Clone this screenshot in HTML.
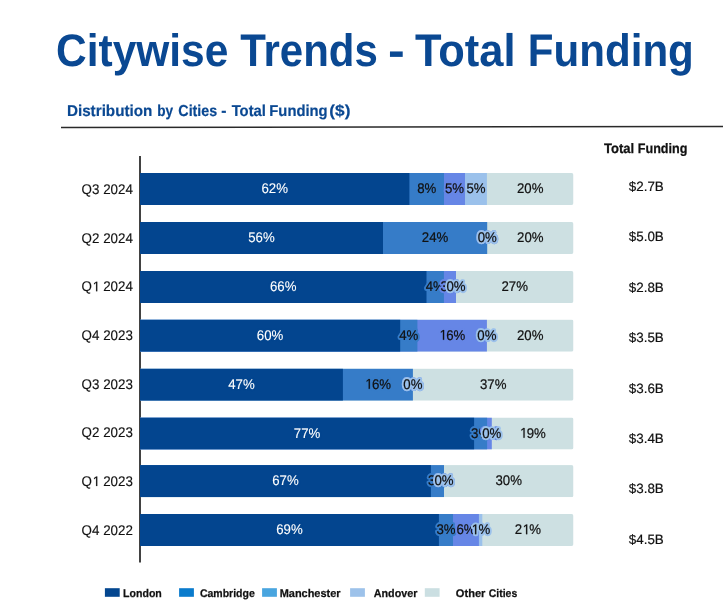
<!DOCTYPE html>
<html><head><meta charset="utf-8">
<style>
html,body{margin:0;padding:0;background:#fff;width:723px;height:611px;overflow:hidden}
svg{position:absolute;left:0;top:0;display:block}
.ga{will-change:transform}
text{font-family:"Liberation Sans",sans-serif;text-rendering:geometricPrecision}
.lbh{stroke-width:4.2px;stroke-linejoin:round}
.cat{fill:#111;stroke:#111;stroke-width:0.15px}
.fund{fill:#111;stroke:#111;stroke-width:0.2px}
.title{font-weight:bold;fill:#0a4892}
.sub{font-weight:bold;fill:#0a4892;stroke:#0a4892;stroke-width:0.2px}
.th{font-weight:bold;fill:#111;stroke:#111;stroke-width:0.25px}
.leg{font-weight:bold;fill:#111;stroke:#111;stroke-width:0.25px}
</style></head><body>
<svg class="ga" width="723" height="611" viewBox="0 0 723 611">
<text x="56" y="65.9" class="title" style="font-size:45.65px" textLength="172.38" lengthAdjust="spacingAndGlyphs">Citywise</text>
<text x="240.18" y="65.9" class="title" style="font-size:45.65px" textLength="137.65" lengthAdjust="spacingAndGlyphs">Trends</text>
<text x="388.09" y="65.9" class="title" style="font-size:45.65px" textLength="16.72" lengthAdjust="spacingAndGlyphs">-</text>
<text x="414.97" y="65.9" class="title" style="font-size:45.65px" textLength="100.56" lengthAdjust="spacingAndGlyphs">Total</text>
<text x="527.76" y="65.9" class="title" style="font-size:45.65px" textLength="166.1" lengthAdjust="spacingAndGlyphs">Funding</text>
<path d="M61 126.8 L723 125.8 L723 127.2 L61 128.2 Z" fill="#2a2a2a"/>
<rect x="139" y="156" width="2" height="406.5" fill="#424242"/>
<clipPath id="c0"><path d="M140.0,173.0 H571.5 Q573.5,173.0 573.5,175.0 V203.1 Q573.5,205.1 571.5,205.1 H140.0 Z"/></clipPath>
<g clip-path="url(#c0)"><rect x="140.0" y="173.0" width="433.50" height="32.1" fill="#cde0e2"/><rect x="140.0" y="173.0" width="346.90" height="32.1" fill="#9bc1eb"/><rect x="140.0" y="173.0" width="325.00" height="32.1" fill="#6686e6"/><rect x="140.0" y="173.0" width="304.00" height="32.1" fill="#367cc8"/><rect x="140.0" y="173.0" width="269.40" height="32.1" fill="#03458f"/></g>
<clipPath id="c1"><path d="M140.0,222.0 H571.5 Q573.5,222.0 573.5,224.0 V252.1 Q573.5,254.1 571.5,254.1 H140.0 Z"/></clipPath>
<g clip-path="url(#c1)"><rect x="140.0" y="222.0" width="433.50" height="32.1" fill="#cde0e2"/><rect x="140.0" y="222.0" width="347.20" height="32.1" fill="#367cc8"/><rect x="140.0" y="222.0" width="243.00" height="32.1" fill="#03458f"/></g>
<clipPath id="c2"><path d="M140.0,271.0 H571.5 Q573.5,271.0 573.5,273.0 V301.1 Q573.5,303.1 571.5,303.1 H140.0 Z"/></clipPath>
<g clip-path="url(#c2)"><rect x="140.0" y="271.0" width="433.50" height="32.1" fill="#cde0e2"/><rect x="140.0" y="271.0" width="316.00" height="32.1" fill="#6686e6"/><rect x="140.0" y="271.0" width="303.90" height="32.1" fill="#367cc8"/><rect x="140.0" y="271.0" width="286.50" height="32.1" fill="#03458f"/></g>
<clipPath id="c3"><path d="M140.0,319.6 H571.5 Q573.5,319.6 573.5,321.6 V349.70000000000005 Q573.5,351.70000000000005 571.5,351.70000000000005 H140.0 Z"/></clipPath>
<g clip-path="url(#c3)"><rect x="140.0" y="319.6" width="433.50" height="32.1" fill="#cde0e2"/><rect x="140.0" y="319.6" width="346.90" height="32.1" fill="#6686e6"/><rect x="140.0" y="319.6" width="277.40" height="32.1" fill="#367cc8"/><rect x="140.0" y="319.6" width="260.20" height="32.1" fill="#03458f"/></g>
<clipPath id="c4"><path d="M140.0,368.6 H571.5 Q573.5,368.6 573.5,370.6 V398.70000000000005 Q573.5,400.70000000000005 571.5,400.70000000000005 H140.0 Z"/></clipPath>
<g clip-path="url(#c4)"><rect x="140.0" y="368.6" width="433.50" height="32.1" fill="#cde0e2"/><rect x="140.0" y="368.6" width="272.90" height="32.1" fill="#367cc8"/><rect x="140.0" y="368.6" width="202.90" height="32.1" fill="#03458f"/></g>
<clipPath id="c5"><path d="M140.0,417.5 H571.5 Q573.5,417.5 573.5,419.5 V447.6 Q573.5,449.6 571.5,449.6 H140.0 Z"/></clipPath>
<g clip-path="url(#c5)"><rect x="140.0" y="417.5" width="433.50" height="32.1" fill="#cde0e2"/><rect x="140.0" y="417.5" width="351.80" height="32.1" fill="#6686e6"/><rect x="140.0" y="417.5" width="347.10" height="32.1" fill="#367cc8"/><rect x="140.0" y="417.5" width="334.10" height="32.1" fill="#03458f"/></g>
<clipPath id="c6"><path d="M140.0,465.1 H571.5 Q573.5,465.1 573.5,467.1 V495.20000000000005 Q573.5,497.20000000000005 571.5,497.20000000000005 H140.0 Z"/></clipPath>
<g clip-path="url(#c6)"><rect x="140.0" y="465.1" width="433.50" height="32.1" fill="#cde0e2"/><rect x="140.0" y="465.1" width="304.00" height="32.1" fill="#367cc8"/><rect x="140.0" y="465.1" width="290.90" height="32.1" fill="#03458f"/></g>
<clipPath id="c7"><path d="M140.0,514.0 H571.5 Q573.5,514.0 573.5,516.0 V544.1 Q573.5,546.1 571.5,546.1 H140.0 Z"/></clipPath>
<g clip-path="url(#c7)"><rect x="140.0" y="514.0" width="433.50" height="32.1" fill="#cde0e2"/><rect x="140.0" y="514.0" width="342.30" height="32.1" fill="#9bc1eb"/><rect x="140.0" y="514.0" width="338.90" height="32.1" fill="#6686e6"/><rect x="140.0" y="514.0" width="313.00" height="32.1" fill="#367cc8"/><rect x="140.0" y="514.0" width="298.90" height="32.1" fill="#03458f"/></g>
<text x="261.46" y="193.15" class="lbh" style="font-size:14px" textLength="26.48" lengthAdjust="spacingAndGlyphs" fill="#03458f" stroke="#03458f">62%</text>
<text x="261.46" y="193.15" class="lbt" style="font-size:14px" textLength="26.48" lengthAdjust="spacingAndGlyphs" fill="#ffffff" stroke="#ffffff" stroke-width="0.1">62%</text>
<text x="417.14" y="193.15" class="lbh" style="font-size:14px" textLength="19.12" lengthAdjust="spacingAndGlyphs" fill="#367cc8" stroke="#367cc8">8%</text>
<text x="417.14" y="193.15" class="lbt" style="font-size:14px" textLength="19.12" lengthAdjust="spacingAndGlyphs" fill="#111111" stroke="#111111" stroke-width="0.22">8%</text>
<text x="444.94" y="193.15" class="lbh" style="font-size:14px" textLength="19.12" lengthAdjust="spacingAndGlyphs" fill="#6686e6" stroke="#6686e6">5%</text>
<text x="444.94" y="193.15" class="lbt" style="font-size:14px" textLength="19.12" lengthAdjust="spacingAndGlyphs" fill="#111111" stroke="#111111" stroke-width="0.22">5%</text>
<text x="466.39" y="193.15" class="lbh" style="font-size:14px" textLength="19.12" lengthAdjust="spacingAndGlyphs" fill="#9bc1eb" stroke="#9bc1eb">5%</text>
<text x="466.39" y="193.15" class="lbt" style="font-size:14px" textLength="19.12" lengthAdjust="spacingAndGlyphs" fill="#111111" stroke="#111111" stroke-width="0.22">5%</text>
<text x="516.96" y="193.15" class="lbh" style="font-size:14px" textLength="26.48" lengthAdjust="spacingAndGlyphs" fill="#cde0e2" stroke="#cde0e2">20%</text>
<text x="516.96" y="193.15" class="lbt" style="font-size:14px" textLength="26.48" lengthAdjust="spacingAndGlyphs" fill="#111111" stroke="#111111" stroke-width="0.22">20%</text>
<text x="81.61" y="193.9" class="cat" style="font-size:14px" textLength="51.29" lengthAdjust="spacingAndGlyphs">Q3 2024</text>
<text x="248.26" y="242.15" class="lbh" style="font-size:14px" textLength="26.48" lengthAdjust="spacingAndGlyphs" fill="#03458f" stroke="#03458f">56%</text>
<text x="248.26" y="242.15" class="lbt" style="font-size:14px" textLength="26.48" lengthAdjust="spacingAndGlyphs" fill="#ffffff" stroke="#ffffff" stroke-width="0.1">56%</text>
<text x="421.86" y="242.15" class="lbh" style="font-size:14px" textLength="26.48" lengthAdjust="spacingAndGlyphs" fill="#367cc8" stroke="#367cc8">24%</text>
<text x="421.86" y="242.15" class="lbt" style="font-size:14px" textLength="26.48" lengthAdjust="spacingAndGlyphs" fill="#111111" stroke="#111111" stroke-width="0.22">24%</text>
<text x="477.64" y="242.15" class="lbh" style="font-size:14px" textLength="19.12" lengthAdjust="spacingAndGlyphs" fill="#6686e6" stroke="#6686e6">0%</text>
<text x="477.64" y="242.15" class="lbt" style="font-size:14px" textLength="19.12" lengthAdjust="spacingAndGlyphs" fill="#111111" stroke="#111111" stroke-width="0.22">0%</text>
<text x="477.64" y="242.15" class="lbh" style="font-size:14px" textLength="19.12" lengthAdjust="spacingAndGlyphs" fill="#9bc1eb" stroke="#9bc1eb">0%</text>
<text x="477.64" y="242.15" class="lbt" style="font-size:14px" textLength="19.12" lengthAdjust="spacingAndGlyphs" fill="#111111" stroke="#111111" stroke-width="0.22">0%</text>
<text x="517.11" y="242.15" class="lbh" style="font-size:14px" textLength="26.48" lengthAdjust="spacingAndGlyphs" fill="#cde0e2" stroke="#cde0e2">20%</text>
<text x="517.11" y="242.15" class="lbt" style="font-size:14px" textLength="26.48" lengthAdjust="spacingAndGlyphs" fill="#111111" stroke="#111111" stroke-width="0.22">20%</text>
<text x="81.61" y="242.6" class="cat" style="font-size:14px" textLength="51.29" lengthAdjust="spacingAndGlyphs">Q2 2024</text>
<text x="270.01" y="291.15" class="lbh" style="font-size:14px" textLength="26.48" lengthAdjust="spacingAndGlyphs" fill="#03458f" stroke="#03458f">66%</text>
<text x="270.01" y="291.15" class="lbt" style="font-size:14px" textLength="26.48" lengthAdjust="spacingAndGlyphs" fill="#ffffff" stroke="#ffffff" stroke-width="0.1">66%</text>
<text x="425.64" y="291.15" class="lbh" style="font-size:14px" textLength="19.12" lengthAdjust="spacingAndGlyphs" fill="#367cc8" stroke="#367cc8">4%</text>
<text x="425.64" y="291.15" class="lbt" style="font-size:14px" textLength="19.12" lengthAdjust="spacingAndGlyphs" fill="#111111" stroke="#111111" stroke-width="0.22">4%</text>
<text x="440.39" y="291.15" class="lbh" style="font-size:14px" textLength="19.12" lengthAdjust="spacingAndGlyphs" fill="#6686e6" stroke="#6686e6">3%</text>
<text x="440.39" y="291.15" class="lbt" style="font-size:14px" textLength="19.12" lengthAdjust="spacingAndGlyphs" fill="#111111" stroke="#111111" stroke-width="0.22">3%</text>
<text x="446.44" y="291.15" class="lbh" style="font-size:14px" textLength="19.12" lengthAdjust="spacingAndGlyphs" fill="#9bc1eb" stroke="#9bc1eb">0%</text>
<text x="446.44" y="291.15" class="lbt" style="font-size:14px" textLength="19.12" lengthAdjust="spacingAndGlyphs" fill="#111111" stroke="#111111" stroke-width="0.22">0%</text>
<text x="501.51" y="291.15" class="lbh" style="font-size:14px" textLength="26.48" lengthAdjust="spacingAndGlyphs" fill="#cde0e2" stroke="#cde0e2">27%</text>
<text x="501.51" y="291.15" class="lbt" style="font-size:14px" textLength="26.48" lengthAdjust="spacingAndGlyphs" fill="#111111" stroke="#111111" stroke-width="0.22">27%</text>
<text x="81.61" y="291.3" class="cat" style="font-size:14px" textLength="51.29" lengthAdjust="spacingAndGlyphs">Q  2024</text><path d="M625 0V1237L307 1010V1180L640 1409H806V0Z" transform="translate(92.01,291.3) scale(0.00653,-0.00684)" class="cat" vector-effect="non-scaling-stroke"/>
<text x="256.86" y="339.75" class="lbh" style="font-size:14px" textLength="26.48" lengthAdjust="spacingAndGlyphs" fill="#03458f" stroke="#03458f">60%</text>
<text x="256.86" y="339.75" class="lbt" style="font-size:14px" textLength="26.48" lengthAdjust="spacingAndGlyphs" fill="#ffffff" stroke="#ffffff" stroke-width="0.1">60%</text>
<text x="399.24" y="339.75" class="lbh" style="font-size:14px" textLength="19.12" lengthAdjust="spacingAndGlyphs" fill="#367cc8" stroke="#367cc8">4%</text>
<text x="399.24" y="339.75" class="lbt" style="font-size:14px" textLength="19.12" lengthAdjust="spacingAndGlyphs" fill="#111111" stroke="#111111" stroke-width="0.22">4%</text>
<text x="438.91" y="339.75" class="lbh" style="font-size:14px" textLength="26.48" lengthAdjust="spacingAndGlyphs" fill="#6686e6" stroke="#6686e6"> 6%</text><path d="M625 0V1237L307 1010V1180L640 1409H806V0Z" transform="translate(438.91,339.75) scale(0.00646,-0.00684)" class="lbh" fill="#6686e6" stroke="#6686e6" vector-effect="non-scaling-stroke"/>
<text x="438.91" y="339.75" class="lbt" style="font-size:14px" textLength="26.48" lengthAdjust="spacingAndGlyphs" fill="#111111" stroke="#111111" stroke-width="0.22"> 6%</text><path d="M625 0V1237L307 1010V1180L640 1409H806V0Z" transform="translate(438.91,339.75) scale(0.00646,-0.00684)" class="lbt" fill="#111111" stroke="#111111" stroke-width="0.22" vector-effect="non-scaling-stroke"/>
<text x="477.34" y="339.75" class="lbh" style="font-size:14px" textLength="19.12" lengthAdjust="spacingAndGlyphs" fill="#9bc1eb" stroke="#9bc1eb">0%</text>
<text x="477.34" y="339.75" class="lbt" style="font-size:14px" textLength="19.12" lengthAdjust="spacingAndGlyphs" fill="#111111" stroke="#111111" stroke-width="0.22">0%</text>
<text x="516.96" y="339.75" class="lbh" style="font-size:14px" textLength="26.48" lengthAdjust="spacingAndGlyphs" fill="#cde0e2" stroke="#cde0e2">20%</text>
<text x="516.96" y="339.75" class="lbt" style="font-size:14px" textLength="26.48" lengthAdjust="spacingAndGlyphs" fill="#111111" stroke="#111111" stroke-width="0.22">20%</text>
<text x="81.61" y="340" class="cat" style="font-size:14px" textLength="51.29" lengthAdjust="spacingAndGlyphs">Q4 2023</text>
<text x="228.21" y="388.75" class="lbh" style="font-size:14px" textLength="26.48" lengthAdjust="spacingAndGlyphs" fill="#03458f" stroke="#03458f">47%</text>
<text x="228.21" y="388.75" class="lbt" style="font-size:14px" textLength="26.48" lengthAdjust="spacingAndGlyphs" fill="#ffffff" stroke="#ffffff" stroke-width="0.1">47%</text>
<text x="364.66" y="388.75" class="lbh" style="font-size:14px" textLength="26.48" lengthAdjust="spacingAndGlyphs" fill="#367cc8" stroke="#367cc8"> 6%</text><path d="M625 0V1237L307 1010V1180L640 1409H806V0Z" transform="translate(364.66,388.75) scale(0.00646,-0.00684)" class="lbh" fill="#367cc8" stroke="#367cc8" vector-effect="non-scaling-stroke"/>
<text x="364.66" y="388.75" class="lbt" style="font-size:14px" textLength="26.48" lengthAdjust="spacingAndGlyphs" fill="#111111" stroke="#111111" stroke-width="0.22"> 6%</text><path d="M625 0V1237L307 1010V1180L640 1409H806V0Z" transform="translate(364.66,388.75) scale(0.00646,-0.00684)" class="lbt" fill="#111111" stroke="#111111" stroke-width="0.22" vector-effect="non-scaling-stroke"/>
<text x="403.34" y="388.75" class="lbh" style="font-size:14px" textLength="19.12" lengthAdjust="spacingAndGlyphs" fill="#6686e6" stroke="#6686e6">0%</text>
<text x="403.34" y="388.75" class="lbt" style="font-size:14px" textLength="19.12" lengthAdjust="spacingAndGlyphs" fill="#111111" stroke="#111111" stroke-width="0.22">0%</text>
<text x="403.34" y="388.75" class="lbh" style="font-size:14px" textLength="19.12" lengthAdjust="spacingAndGlyphs" fill="#9bc1eb" stroke="#9bc1eb">0%</text>
<text x="403.34" y="388.75" class="lbt" style="font-size:14px" textLength="19.12" lengthAdjust="spacingAndGlyphs" fill="#111111" stroke="#111111" stroke-width="0.22">0%</text>
<text x="479.96" y="388.75" class="lbh" style="font-size:14px" textLength="26.48" lengthAdjust="spacingAndGlyphs" fill="#cde0e2" stroke="#cde0e2">37%</text>
<text x="479.96" y="388.75" class="lbt" style="font-size:14px" textLength="26.48" lengthAdjust="spacingAndGlyphs" fill="#111111" stroke="#111111" stroke-width="0.22">37%</text>
<text x="81.61" y="388.7" class="cat" style="font-size:14px" textLength="51.29" lengthAdjust="spacingAndGlyphs">Q3 2023</text>
<text x="293.81" y="437.65" class="lbh" style="font-size:14px" textLength="26.48" lengthAdjust="spacingAndGlyphs" fill="#03458f" stroke="#03458f">77%</text>
<text x="293.81" y="437.65" class="lbt" style="font-size:14px" textLength="26.48" lengthAdjust="spacingAndGlyphs" fill="#ffffff" stroke="#ffffff" stroke-width="0.1">77%</text>
<text x="471.04" y="437.65" class="lbh" style="font-size:14px" textLength="19.12" lengthAdjust="spacingAndGlyphs" fill="#367cc8" stroke="#367cc8">3%</text>
<text x="471.04" y="437.65" class="lbt" style="font-size:14px" textLength="19.12" lengthAdjust="spacingAndGlyphs" fill="#111111" stroke="#111111" stroke-width="0.22">3%</text>
<text x="479.89" y="437.65" class="lbh" style="font-size:14px" textLength="19.12" lengthAdjust="spacingAndGlyphs" fill="#6686e6" stroke="#6686e6"> %</text><path d="M625 0V1237L307 1010V1180L640 1409H806V0Z" transform="translate(479.89,437.65) scale(0.00646,-0.00684)" class="lbh" fill="#6686e6" stroke="#6686e6" vector-effect="non-scaling-stroke"/>
<text x="479.89" y="437.65" class="lbt" style="font-size:14px" textLength="19.12" lengthAdjust="spacingAndGlyphs" fill="#111111" stroke="#111111" stroke-width="0.22"> %</text><path d="M625 0V1237L307 1010V1180L640 1409H806V0Z" transform="translate(479.89,437.65) scale(0.00646,-0.00684)" class="lbt" fill="#111111" stroke="#111111" stroke-width="0.22" vector-effect="non-scaling-stroke"/>
<text x="482.24" y="437.65" class="lbh" style="font-size:14px" textLength="19.12" lengthAdjust="spacingAndGlyphs" fill="#9bc1eb" stroke="#9bc1eb">0%</text>
<text x="482.24" y="437.65" class="lbt" style="font-size:14px" textLength="19.12" lengthAdjust="spacingAndGlyphs" fill="#111111" stroke="#111111" stroke-width="0.22">0%</text>
<text x="519.41" y="437.65" class="lbh" style="font-size:14px" textLength="26.48" lengthAdjust="spacingAndGlyphs" fill="#cde0e2" stroke="#cde0e2"> 9%</text><path d="M625 0V1237L307 1010V1180L640 1409H806V0Z" transform="translate(519.41,437.65) scale(0.00646,-0.00684)" class="lbh" fill="#cde0e2" stroke="#cde0e2" vector-effect="non-scaling-stroke"/>
<text x="519.41" y="437.65" class="lbt" style="font-size:14px" textLength="26.48" lengthAdjust="spacingAndGlyphs" fill="#111111" stroke="#111111" stroke-width="0.22"> 9%</text><path d="M625 0V1237L307 1010V1180L640 1409H806V0Z" transform="translate(519.41,437.65) scale(0.00646,-0.00684)" class="lbt" fill="#111111" stroke="#111111" stroke-width="0.22" vector-effect="non-scaling-stroke"/>
<text x="81.61" y="437.4" class="cat" style="font-size:14px" textLength="51.29" lengthAdjust="spacingAndGlyphs">Q2 2023</text>
<text x="272.21" y="485.25" class="lbh" style="font-size:14px" textLength="26.48" lengthAdjust="spacingAndGlyphs" fill="#03458f" stroke="#03458f">67%</text>
<text x="272.21" y="485.25" class="lbt" style="font-size:14px" textLength="26.48" lengthAdjust="spacingAndGlyphs" fill="#ffffff" stroke="#ffffff" stroke-width="0.1">67%</text>
<text x="427.89" y="485.25" class="lbh" style="font-size:14px" textLength="19.12" lengthAdjust="spacingAndGlyphs" fill="#367cc8" stroke="#367cc8">3%</text>
<text x="427.89" y="485.25" class="lbt" style="font-size:14px" textLength="19.12" lengthAdjust="spacingAndGlyphs" fill="#111111" stroke="#111111" stroke-width="0.22">3%</text>
<text x="434.44" y="485.25" class="lbh" style="font-size:14px" textLength="19.12" lengthAdjust="spacingAndGlyphs" fill="#6686e6" stroke="#6686e6">0%</text>
<text x="434.44" y="485.25" class="lbt" style="font-size:14px" textLength="19.12" lengthAdjust="spacingAndGlyphs" fill="#111111" stroke="#111111" stroke-width="0.22">0%</text>
<text x="434.44" y="485.25" class="lbh" style="font-size:14px" textLength="19.12" lengthAdjust="spacingAndGlyphs" fill="#9bc1eb" stroke="#9bc1eb">0%</text>
<text x="434.44" y="485.25" class="lbt" style="font-size:14px" textLength="19.12" lengthAdjust="spacingAndGlyphs" fill="#111111" stroke="#111111" stroke-width="0.22">0%</text>
<text x="495.51" y="485.25" class="lbh" style="font-size:14px" textLength="26.48" lengthAdjust="spacingAndGlyphs" fill="#cde0e2" stroke="#cde0e2">30%</text>
<text x="495.51" y="485.25" class="lbt" style="font-size:14px" textLength="26.48" lengthAdjust="spacingAndGlyphs" fill="#111111" stroke="#111111" stroke-width="0.22">30%</text>
<text x="81.61" y="486.1" class="cat" style="font-size:14px" textLength="51.29" lengthAdjust="spacingAndGlyphs">Q  2023</text><path d="M625 0V1237L307 1010V1180L640 1409H806V0Z" transform="translate(92.01,486.1) scale(0.00653,-0.00684)" class="cat" vector-effect="non-scaling-stroke"/>
<text x="276.21" y="534.15" class="lbh" style="font-size:14px" textLength="26.48" lengthAdjust="spacingAndGlyphs" fill="#03458f" stroke="#03458f">69%</text>
<text x="276.21" y="534.15" class="lbt" style="font-size:14px" textLength="26.48" lengthAdjust="spacingAndGlyphs" fill="#ffffff" stroke="#ffffff" stroke-width="0.1">69%</text>
<text x="436.39" y="534.15" class="lbh" style="font-size:14px" textLength="19.12" lengthAdjust="spacingAndGlyphs" fill="#367cc8" stroke="#367cc8">3%</text>
<text x="436.39" y="534.15" class="lbt" style="font-size:14px" textLength="19.12" lengthAdjust="spacingAndGlyphs" fill="#111111" stroke="#111111" stroke-width="0.22">3%</text>
<text x="456.39" y="534.15" class="lbh" style="font-size:14px" textLength="19.12" lengthAdjust="spacingAndGlyphs" fill="#6686e6" stroke="#6686e6">6%</text>
<text x="456.39" y="534.15" class="lbt" style="font-size:14px" textLength="19.12" lengthAdjust="spacingAndGlyphs" fill="#111111" stroke="#111111" stroke-width="0.22">6%</text>
<text x="471.04" y="534.15" class="lbh" style="font-size:14px" textLength="19.12" lengthAdjust="spacingAndGlyphs" fill="#9bc1eb" stroke="#9bc1eb"> %</text><path d="M625 0V1237L307 1010V1180L640 1409H806V0Z" transform="translate(471.04,534.15) scale(0.00646,-0.00684)" class="lbh" fill="#9bc1eb" stroke="#9bc1eb" vector-effect="non-scaling-stroke"/>
<text x="471.04" y="534.15" class="lbt" style="font-size:14px" textLength="19.12" lengthAdjust="spacingAndGlyphs" fill="#111111" stroke="#111111" stroke-width="0.22"> %</text><path d="M625 0V1237L307 1010V1180L640 1409H806V0Z" transform="translate(471.04,534.15) scale(0.00646,-0.00684)" class="lbt" fill="#111111" stroke="#111111" stroke-width="0.22" vector-effect="non-scaling-stroke"/>
<text x="514.66" y="534.15" class="lbh" style="font-size:14px" textLength="26.48" lengthAdjust="spacingAndGlyphs" fill="#cde0e2" stroke="#cde0e2">2 %</text><path d="M625 0V1237L307 1010V1180L640 1409H806V0Z" transform="translate(522.02,534.15) scale(0.00646,-0.00684)" class="lbh" fill="#cde0e2" stroke="#cde0e2" vector-effect="non-scaling-stroke"/>
<text x="514.66" y="534.15" class="lbt" style="font-size:14px" textLength="26.48" lengthAdjust="spacingAndGlyphs" fill="#111111" stroke="#111111" stroke-width="0.22">2 %</text><path d="M625 0V1237L307 1010V1180L640 1409H806V0Z" transform="translate(522.02,534.15) scale(0.00646,-0.00684)" class="lbt" fill="#111111" stroke="#111111" stroke-width="0.22" vector-effect="non-scaling-stroke"/>
<text x="81.61" y="534.8" class="cat" style="font-size:14px" textLength="51.29" lengthAdjust="spacingAndGlyphs">Q4 2022</text>
</svg>
<svg width="723" height="611" viewBox="0 0 723 611">
<text x="66.91" y="115.8" class="sub" style="font-size:15.8px" textLength="85.51" lengthAdjust="spacingAndGlyphs">Distribution</text>
<text x="157.22" y="115.8" class="sub" style="font-size:15.8px" textLength="15.88" lengthAdjust="spacingAndGlyphs">by</text>
<text x="178.33" y="115.8" class="sub" style="font-size:15.8px" textLength="38.89" lengthAdjust="spacingAndGlyphs">Cities</text>
<text x="221.37" y="115.8" class="sub" style="font-size:15.8px" textLength="5.22" lengthAdjust="spacingAndGlyphs">-</text>
<text x="231.65" y="115.8" class="sub" style="font-size:15.8px" textLength="34.28" lengthAdjust="spacingAndGlyphs">Total</text>
<text x="269.34" y="115.8" class="sub" style="font-size:15.8px" textLength="58.26" lengthAdjust="spacingAndGlyphs">Funding</text>
<text x="329.34" y="115.8" class="sub" style="font-size:15.8px" textLength="21.08" lengthAdjust="spacingAndGlyphs">($)</text>
<text x="603.97" y="152.8" class="th" style="font-size:13.77px" textLength="30.24" lengthAdjust="spacingAndGlyphs">Total</text>
<text x="637.78" y="152.8" class="th" style="font-size:13.77px" textLength="49.68" lengthAdjust="spacingAndGlyphs">Funding</text>
<text x="628.84" y="190.6" class="fund" style="font-size:13.5px" textLength="34.93" lengthAdjust="spacingAndGlyphs">$2.7B</text>
<text x="628.84" y="241.2" class="fund" style="font-size:13.5px" textLength="34.93" lengthAdjust="spacingAndGlyphs">$5.0B</text>
<text x="628.84" y="292.3" class="fund" style="font-size:13.5px" textLength="34.93" lengthAdjust="spacingAndGlyphs">$2.8B</text>
<text x="628.84" y="342.4" class="fund" style="font-size:13.5px" textLength="34.93" lengthAdjust="spacingAndGlyphs">$3.5B</text>
<text x="628.84" y="393.4" class="fund" style="font-size:13.5px" textLength="34.93" lengthAdjust="spacingAndGlyphs">$3.6B</text>
<text x="628.84" y="443.2" class="fund" style="font-size:13.5px" textLength="34.93" lengthAdjust="spacingAndGlyphs">$3.4B</text>
<text x="628.84" y="492.9" class="fund" style="font-size:13.5px" textLength="34.93" lengthAdjust="spacingAndGlyphs">$3.8B</text>
<text x="628.84" y="544" class="fund" style="font-size:13.5px" textLength="34.93" lengthAdjust="spacingAndGlyphs">$4.5B</text>
<rect x="104.9" y="588.2" width="14.8" height="8.6" fill="#03468f"/>
<rect x="179.1" y="588.2" width="14.8" height="8.6" fill="#0a7bcc"/>
<rect x="262.1" y="588.2" width="14.8" height="8.6" fill="#49a5df"/>
<rect x="350.1" y="588.2" width="14.8" height="8.6" fill="#9dc2ea"/>
<rect x="424.8" y="588.2" width="14.8" height="8.6" fill="#cbdfe2"/>
<text x="123.11" y="596.7" class="leg" style="font-size:11.16px" textLength="38.72" lengthAdjust="spacingAndGlyphs">London</text>
<text x="199.88" y="596.7" class="leg" style="font-size:11.16px" textLength="54.92" lengthAdjust="spacingAndGlyphs">Cambridge</text>
<text x="279.69" y="596.7" class="leg" style="font-size:11.16px" textLength="60.85" lengthAdjust="spacingAndGlyphs">Manchester</text>
<text x="373.73" y="596.7" class="leg" style="font-size:11.16px" textLength="43.64" lengthAdjust="spacingAndGlyphs">Andover</text>
<text x="455.86" y="596.7" class="leg" style="font-size:11.16px" textLength="29.58" lengthAdjust="spacingAndGlyphs">Other</text>
<text x="488.78" y="596.7" class="leg" style="font-size:11.16px" textLength="28.47" lengthAdjust="spacingAndGlyphs">Cities</text>
</svg></body></html>
